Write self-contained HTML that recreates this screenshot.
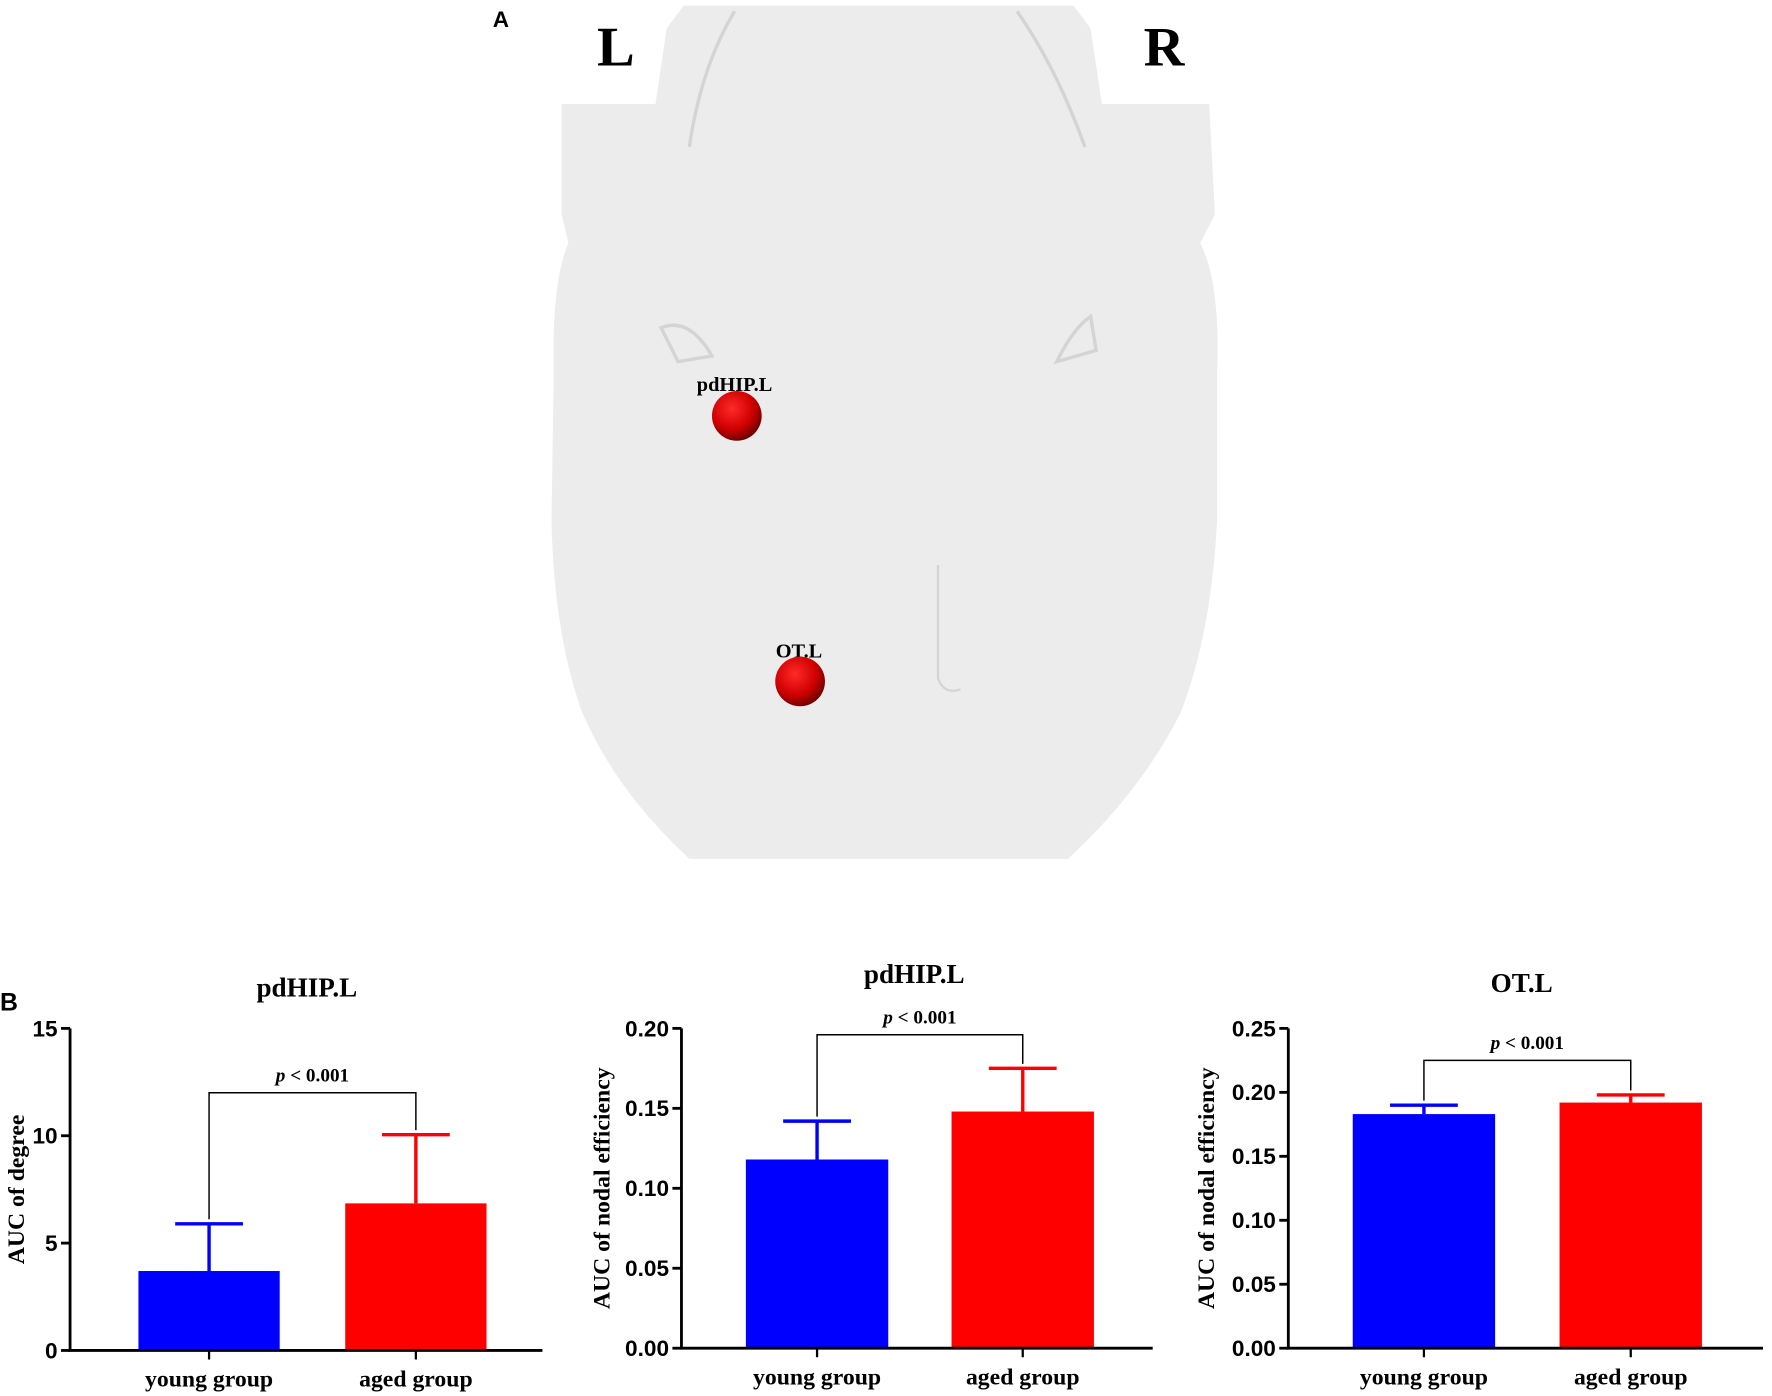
<!DOCTYPE html>
<html><head><meta charset="utf-8"><style>
html,body{margin:0;padding:0;background:#fff;}
svg{display:block;}
text{font-family:"Liberation Serif",serif;font-weight:bold;}
.sans{font-family:"Liberation Sans",sans-serif;}
</style></head><body>
<svg id="fig" width="1772" height="1396" viewBox="0 0 1568 1235.3" preserveAspectRatio="none">
<defs>
<radialGradient id="sph" cx="0.4" cy="0.35" r="0.7"><stop offset="0" stop-color="#ff2a2a"/><stop offset="0.6" stop-color="#d00000"/><stop offset="1" stop-color="#600000"/></radialGradient>
</defs>
<text x="436" y="24" class="sans" font-size="20">A</text>
<g>
<path d="M605,5 L950,5 L965,25 L975,92 L1070,92 L1075,190 L1062,215 Q1080,250 1077,330 L1077,460 Q1072,560 1045,630 Q1010,700 945,760 L610,760 Q545,700 515,630 Q490,560 488,460 L490,330 Q488,250 503,215 L497,190 L497,92 L580,92 L590,25 Z" fill="#ececec"/>
<path d="M650,10 Q620,60 610,130 M900,10 Q935,60 960,130 M585,290 Q610,280 630,315 L600,320 Z M965,280 Q950,290 935,320 L970,310 Z" fill="none" stroke="#d4d4d4" stroke-width="3"/>
<path d="M830,500 L830,600 Q835,615 850,610" fill="none" stroke="#d4d4d4" stroke-width="2"/>
</g>
<text x="545" y="58" font-size="50" text-anchor="middle">L</text>
<text x="1030" y="58" font-size="50" text-anchor="middle">R</text>
<text x="650" y="346" font-size="18" text-anchor="middle">pdHIP.L</text>
<circle cx="652" cy="368" r="22" fill="url(#sph)"/>
<text x="707" y="582" font-size="18" text-anchor="middle">OT.L</text>
<circle cx="708" cy="603" r="22" fill="url(#sph)"/>
<text x="0" y="894" class="sans" font-size="22">B</text>
<g id="charts"></g>
</svg>
<script>
const titles = ["pdHIP.L", "pdHIP.L", "OT.L"];
const yLabels = ["AUC of degree", "AUC of nodal efficiency", "AUC of nodal efficiency"];
const categories = ["young group", "aged group"];
const yMaxes = [15, 0.20, 0.25];
const tickLabels1 = ["0", "5", "10", "15"];
const tickLabels2 = ["0.00", "0.05", "0.10", "0.15", "0.20"];
const tickLabels3 = ["0.00", "0.05", "0.10", "0.15", "0.20", "0.25"];
const tickValues1 = [0, 5, 10, 15];
const tickValues2 = [0, 0.05, 0.10, 0.15, 0.20];
const tickValues3 = [0, 0.05, 0.10, 0.15, 0.20, 0.25];
const means1 = [3.7, 6.85];
const means2 = [0.118, 0.148];
const means3 = [0.183, 0.192];
const errTop1 = [5.9, 10.05];
const errTop2 = [0.142, 0.175];
const errTop3 = [0.190, 0.198];
const bracketY = [12, 0.196, 0.225];

const NS = "http://www.w3.org/2000/svg";
const root = document.getElementById("charts");
function mk(tag, attrs, parent, txt){
  const e = document.createElementNS(NS, tag);
  for (const k in attrs) e.setAttribute(k, attrs[k]);
  if (txt !== undefined) e.textContent = txt;
  parent.appendChild(e);
  return e;
}
const layouts = [
  {ax:62, top:910, base:1195, right:480, bx:[185,368], bw:125, ty:882, lx:15},
  {ax:603, top:910, base:1193, right:1020, bx:[723,905], bw:126, ty:870, lx:533},
  {ax:1140, top:910, base:1193, right:1560, bx:[1260,1443], bw:126, ty:878, lx:1068}
];
const ticksL = [tickLabels1, tickLabels2, tickLabels3];
const ticksV = [tickValues1, tickValues2, tickValues3];
const meansA = [means1, means2, means3];
const errA = [errTop1, errTop2, errTop3];
const colors = ["#0000ff", "#ff0000"];
layouts.forEach((L, i) => {
  const g = mk("g", {}, root);
  
  
  const y = v => L.base - (v / yMaxes[i]) * (L.base - L.top);
  const t = mk("text", {x:(L.bx[0]+L.bx[1])/2 - 5, y:L.ty, "font-size":24, "text-anchor":"middle"}, g, titles[i]);
  
  
  const yl = mk("text", {x:0, y:0, "font-size":21, "text-anchor":"middle", transform:`translate(${L.lx},${(L.top+L.base)/2}) rotate(-90)`, "dominant-baseline":"central"}, g, yLabels[i]);
  
  
  meansA[i].forEach((m, j) => {
    const cx = L.bx[j];
    const b = mk("rect", {x:cx - L.bw/2, y:y(m), width:L.bw, height:L.base - y(m), fill:colors[j]}, g);
    
    
    const e = mk("path", {d:`M${cx},${y(m)} V${y(errA[i][j])} M${cx-30},${y(errA[i][j])} H${cx+30}`, stroke:colors[j], "stroke-width":3, fill:"none"}, g);
    
    
    const xl = mk("text", {x:cx, y:L.base + 32, "font-size":21, "text-anchor":"middle"}, g, categories[j]);
    
    
    mk("line", {x1:cx, x2:cx, y1:L.base, y2:L.base + 8, stroke:"#000", "stroke-width":2}, g);
  });
  const ax = mk("path", {d:`M${L.ax},${L.top} V${L.base} H${L.right}`, stroke:"#000", "stroke-width":2.5, fill:"none"}, g);
  
  
  ticksV[i].forEach((v, k) => {
    mk("line", {x1:L.ax - 8, x2:L.ax, y1:y(v), y2:y(v), stroke:"#000", "stroke-width":2.5}, g);
    const tl = mk("text", {x:L.ax - 11, y:y(v) + 7, "font-size":20, "text-anchor":"end", class:"sans"}, g, ticksL[i][k]);
    
    
  });
  const by = y(bracketY[i]);
  const br = mk("path", {d:`M${L.bx[0]},${y(errA[i][0])-4} V${by} H${L.bx[1]} V${y(errA[i][1])-4}`, stroke:"#000", "stroke-width":1.3, fill:"none"}, g);
  
  
  const p = mk("text", {x:(L.bx[0]+L.bx[1])/2, y:by - 10, "font-size":17, "text-anchor":"middle"}, g);
  
  
  mk("tspan", {"font-style":"italic"}, p, "p");
  mk("tspan", {}, p, " < 0.001");
});
</script>
</body></html>
